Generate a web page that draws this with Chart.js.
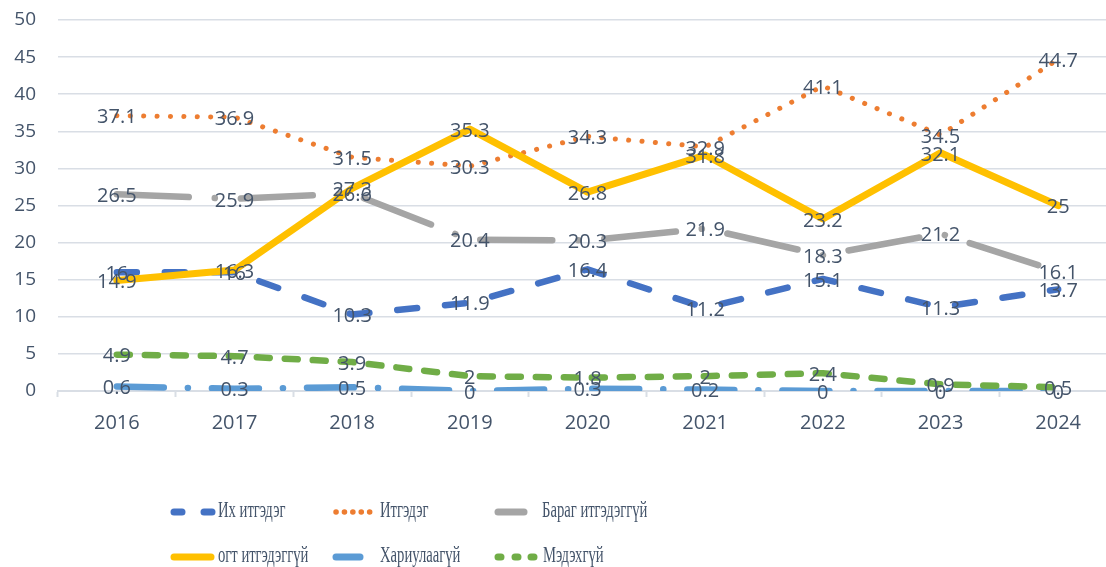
<!DOCTYPE html>
<html>
<head>
<meta charset="utf-8">
<script src="https://cdn.jsdelivr.net/npm/chart.js@4.4.1/dist/chart.umd.min.js"></script>
<style>
    html, body { margin: 0; padding: 0; background: #fff; }
    #wrap { position: relative; width: 1106px; height: 567px; overflow: hidden; }
    #chartBox { position: absolute; left: 0; top: 0; width: 1120px; height: 567px; }
    .lg { position: absolute; height: 20px; }
    .lg svg { position: absolute; left: 0; top: 0; }
    .lg span {
        position: absolute; top: -6px; white-space: nowrap;
        font-family: "Liberation Serif", "DejaVu Serif", serif; font-size: 24px; color: #44546A;
        transform: scaleX(0.61); transform-origin: left center;
    }
</style>
</head>
<body>
<div id="wrap">
    <div id="chartBox"><canvas id="trustChart"></canvas></div>
    <div id="legend"></div>
</div>
<script>
const years = ['2016', '2017', '2018', '2019', '2020', '2021', '2022', '2023', '2024'];
const seriesNames = ['Их итгэдэг', 'Итгэдэг', 'Бараг итгэдэггүй', 'огт итгэдэггүй', 'Хариулаагүй', 'Мэдэхгүй'];

const ixItgedeg = [16, 16, 10.3, 11.9, 16.4, 11.2, 15.1, 11.3, 13.7];
const itgedeg = [37.1, 36.9, 31.5, 30.3, 34.3, 32.9, 41.1, 34.5, 44.7];
const baragItgedeggui = [26.5, 25.9, 26.6, 20.4, 20.3, 21.9, 18.3, 21.2, 16.1];
const ogtItgedeggui = [14.9, 16.3, 27.3, 35.3, 26.8, 31.8, 23.2, 32.1, 25];
const xariulaagui = [0.6, 0.3, 0.5, 0, 0.3, 0.2, 0, 0, 0];
const medexgui = [4.9, 4.7, 3.9, 2, 1.8, 2, 2.4, 0.9, 0.5];

const yTicks = { min: 0, max: 50, step: 5 };

const textColor = '#44546A';
const gridColor = '#D9DEE5';

const styles = [
    { color: '#4472C4', width: 6.5, dash: [20, 28] },
    { color: '#ED7D31', width: 5, dash: [0.1, 13.3] },
    { color: '#A5A5A5', width: 6.5, dash: [72, 26, 0.1, 26] },
    { color: '#FFC000', width: 7, dash: [] },
    { color: '#5B9BD5', width: 6.5, dash: [47, 24, 0.1, 24] },
    { color: '#70AD47', width: 6.5, dash: [13, 15] },
];

const allData = [ixItgedeg, itgedeg, baragItgedeggui, ogtItgedeggui, xariulaagui, medexgui];

// draws the value on each point, like excel data labels
const valueLabels = {
    id: 'valueLabels',
    afterDatasetsDraw: (chart) => {
        const ctx = chart.ctx;
        ctx.save();
        ctx.font = '20px "Open Sans"';
        ctx.fillStyle = textColor;
        ctx.textAlign = 'center';
        ctx.textBaseline = 'middle';
        chart.data.datasets.forEach((ds, i) => {
            const meta = chart.getDatasetMeta(i);
            meta.data.forEach((pt, j) => {
                ctx.fillText(String(ds.data[j]), pt.x, pt.y + 2);
            });
        });
        ctx.restore();
    }
};

const ctx = document.getElementById('trustChart').getContext('2d');

new Chart(ctx, {
    type: 'line',
    data: {
        labels: years,
        datasets: allData.map((d, i) => ({
            label: seriesNames[i],
            data: d,
            borderColor: styles[i].color,
            backgroundColor: styles[i].color,
            borderWidth: styles[i].width,
            borderDash: styles[i].dash,
            borderCapStyle: 'round',
            borderJoinStyle: 'round',
            pointRadius: 0,
            tension: 0,
            fill: false,
            order: 10 - i
        }))
    },
    options: {
        responsive: true,
        maintainAspectRatio: false,
        animation: false,
        layout: {
            padding: { top: 20, right: 3, left: 0, bottom: 0 }
        },
        plugins: {
            legend: { display: false },
            tooltip: { enabled: false },
            title: { display: false }
        },
        scales: {
            x: {
                offset: true,
                grid: {
                    offset: true,
                    drawOnChartArea: false,
                    drawTicks: true,
                    tickLength: 6,
                    tickColor: gridColor,
                    tickWidth: 2
                },
                border: { display: true, color: gridColor, width: 2 },
                ticks: {
                    color: textColor,
                    font: { family: 'Open Sans', size: 20 },
                    padding: 14,
                    maxRotation: 0
                },
                afterFit: (scale) => {
                    scale.height = 176;
                    scale.paddingLeft = 0;
                    scale.paddingRight = 0;
                }
            },
            y: {
                min: yTicks.min,
                max: yTicks.max,
                grid: { color: gridColor, lineWidth: 1.5, drawTicks: false },
                border: { display: false },
                ticks: {
                    stepSize: yTicks.step,
                    color: textColor,
                    font: { family: 'Open Sans', size: 19 },
                    padding: 22
                },
                afterFit: (scale) => {
                    scale.width = 58;
                    scale.paddingTop = 0;
                    scale.paddingBottom = 0;
                }
            }
        }
    },
    plugins: [valueLabels]
});

// legend, two rows of three like in the excel chart
const legendPos = [
    { left: 168, top: 502, text: 218, sample: 'M6 10 L14 10 M36 10 L44 10' },
    { left: 330, top: 502, text: 380, dots: true },
    { left: 492, top: 502, text: 542, sample: 'M6 10 L32 10' },
    { left: 168, top: 547, text: 218, sample: 'M6 10 L43 10' },
    { left: 330, top: 547, text: 380, sample: 'M6 10 L30 10' },
    { left: 492, top: 547, text: 543, sample: 'M6 10 L9 10 M23 10 L26 10 M39 10 L42 10' },
];

const legendBox = document.getElementById('legend');
seriesNames.forEach((name, i) => {
    const p = legendPos[i];
    const item = document.createElement('div');
    item.className = 'lg';
    item.style.left = p.left + 'px';
    item.style.top = p.top + 'px';
    let path = p.sample;
    if (p.dots) {
        path = '';
        for (let k = 0; k < 5; k++) {
            const x = 6 + k * 8.4;
            path += `M${x} 10 L${x + 0.1} 10 `;
        }
    }
    item.innerHTML =
        `<svg width="60" height="20"><path d="${path}" stroke="${styles[i].color}" stroke-width="${i === 1 ? 5.5 : 7}" stroke-linecap="round" fill="none"/></svg>` +
        `<span style="left:${p.text - p.left}px">${name}</span>`;
    legendBox.appendChild(item);
});
</script>
</body>
</html>
